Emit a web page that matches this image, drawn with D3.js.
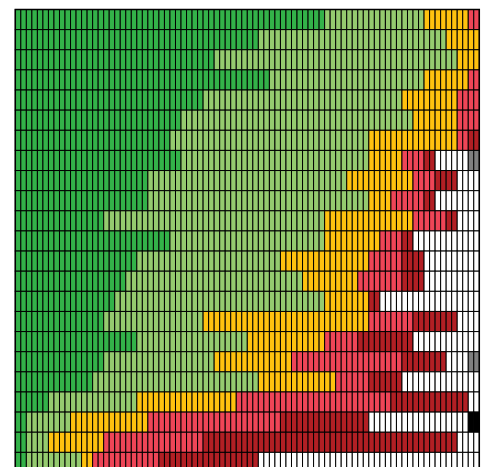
<!DOCTYPE html>
<html>
<head>
<meta charset="utf-8">
<script src="https://cdn.jsdelivr.net/npm/d3@7/dist/d3.min.js"></script>
<style>
  html, body { margin: 0; padding: 0; background: #ffffff; overflow: hidden; }
  svg { display: block; }
</style>
</head>
<body>
<svg id="chart" width="488" height="467"></svg>
<script>
// Category codes and their colours
const categories = ["G", "g", "y", "r", "R", "w", "x", "k"];
const categoryColors = ["#33b249", "#95cb6f", "#ffc20f", "#ef4557", "#b21f24", "#ffffff", "#7f7f7f", "#000000"];

// Column indices (42 columns) and row indices (23 rows)
const columns = d3.range(42);
const rows = d3.range(23);

// Each row given as runs: category code followed by number of cells
const rowRuns = [
  "G28 g9 y4 r1",
  "G22 g17 y3",
  "G18 g22 y2",
  "G23 g14 y4 r1",
  "G17 g18 y5 r2",
  "G15 g21 y4 r2",
  "G14 g18 y8 r1 R1",
  "G15 g17 y3 r2 R1 w3 x1",
  "G12 g18 y6 r2 R2 w2",
  "G12 g20 y2 r3 R1 w4",
  "G8 g20 y8 r3 R1 w2",
  "G14 g14 y5 r2 R1 w6",
  "G11 g13 y8 r3 R2 w5",
  "G10 g16 y5 r4 R2 w5",
  "G9 g19 y4 R1 w9",
  "G8 g9 y15 r4 R4 w2",
  "G11 g10 y7 r3 R5 w6",
  "G8 g10 y7 r10 R4 w2 x1",
  "G7 g15 y7 r3 R3 w7",
  "G3 g8 y9 r14 R7 w1",
  "G1 g4 y7 r12 R8 w9 k1",
  "G1 g2 y5 r9 R23 w2",
  "G1 g5 y1 r6 R9 w20"
];

// Expand runs into cell records
const cells = [];
rowRuns.forEach((spec, ri) => {
  let c = 0;
  spec.split(" ").forEach(tok => {
    const code = tok[0];
    const n = +tok.slice(1);
    for (let k = 0; k < n; k++) { cells.push({ row: ri, col: c, code: code }); c++; }
  });
});

const gridLeft = 15.3, gridTop = 9.5, gridW = 464, rowH = 20.13;
const x = d3.scaleBand().domain(columns).range([gridLeft, gridLeft + gridW]).padding(0);
const y = d3.scaleBand().domain(rows).range([gridTop, gridTop + rowH * rows.length]).padding(0);
const color = d3.scaleOrdinal().domain(categories).range(categoryColors);
const halves = [0, 1];

const svg = d3.select("#chart");

const g = svg.append("g");
const cellG = g.selectAll("g.cell").data(cells).join("g").attr("class", "cell");

cellG.selectAll("rect")
  .data(d => halves.map(h => ({ ...d, half: h })))
  .join("rect")
  .attr("x", d => x(d.col) + d.half * x.bandwidth() / 2)
  .attr("y", d => y(d.row))
  .attr("width", x.bandwidth() / 2)
  .attr("height", y.bandwidth())
  .attr("fill", d => color(d.code))
  .attr("stroke", "#000")
  .attr("stroke-width", 1);

// outer frame
svg.append("rect")
  .attr("x", gridLeft)
  .attr("y", gridTop)
  .attr("width", gridW)
  .attr("height", rowH * rows.length)
  .attr("fill", "none")
  .attr("stroke", "#000")
  .attr("stroke-width", 1.5);
</script>
</body>
</html>
